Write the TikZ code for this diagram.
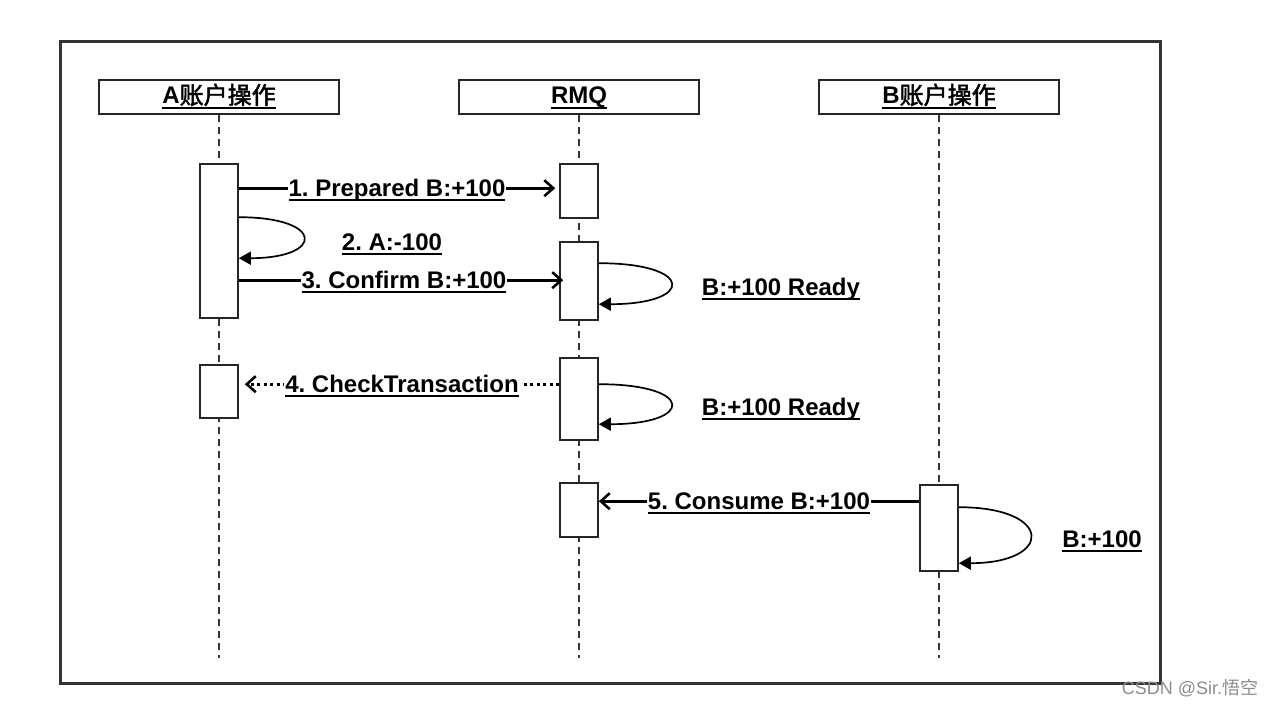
\documentclass[tikz,border=0pt]{standalone}
\usepackage{fontspec}
\setmainfont{Liberation Sans}
\newfontfamily\cjk{Noto Sans CJK SC}[AutoFakeBold=2]
\usetikzlibrary{arrows.meta,calc}
\newcommand\ulbox[1]{\setbox0=\hbox{#1}\leavevmode\rlap{\rule[-4.5pt]{\wd0}{1.8pt}}\box0}
\frenchspacing
\begin{document}
\begin{tikzpicture}[x=1pt,y=-1pt,
  frm/.style={draw=black!80,line width=3pt,inner sep=0,minimum width=1100pt,minimum height=641pt},
  hdr/.style={draw=black!85,line width=1.6pt,minimum width=240pt,minimum height=34pt,inner sep=0},
  hdrtxt/.style={inner sep=0,anchor=base,font=\bfseries\fontsize{24}{28}\selectfont},
  act/.style={draw=black!85,fill=white,line width=1.6pt,minimum width=38pt,inner sep=0},
  life/.style={dash pattern=on 7pt off 5pt,line width=1.2pt,black!80},
  msg/.style={line width=2.8pt,-{Straight Barb[length=9pt,width=16pt,line width=2.6pt]}},
  selfloop/.style={line width=1.7pt,-{Triangle[length=12pt,width=13pt]}},
  lbl/.style={fill=white,inner sep=1pt,anchor=base,yshift=-8pt,font=\bfseries\fontsize{24}{28}\selectfont},
  note/.style={inner sep=0,anchor=base,font=\bfseries\fontsize{24}{28}\selectfont}]
\useasboundingbox (0,0) rectangle (1274,706);
\fill[white] (0,0) rectangle (1274,706);
\node[frm] (frame) at (610,362.5) {};
% headers
\node[hdr] (ha) at (219,97) {};
\node[hdr] (hr) at (579,97) {};
\node[hdr] (hb) at (939,97) {};
\node[hdrtxt] (ta) at ([yshift=-7pt]ha.center) {\ulbox{A{\cjk 账户操作}}};
\node[hdrtxt] (tr) at ([yshift=-7pt]hr.center) {\ulbox{RMQ}};
\node[hdrtxt] (tb) at ([yshift=-7pt]hb.center) {\ulbox{B{\cjk 账户操作}}};
% lifeline ends
\coordinate (ea) at (219,658);
\coordinate (er) at (579,658);
\coordinate (eb) at (939,658);
\draw[life] (ha.south) -- (ea);
\draw[life] (hr.south) -- (er);
\draw[life] (hb.south) -- (eb);
% activations
\node[act,minimum height=154pt] (a1) at (219,241) {};
\node[act,minimum height=53pt] (a2) at (219,391.5) {};
\node[act,minimum height=54pt] (r1) at (579,191) {};
\node[act,minimum height=78pt] (r2) at (579,281) {};
\node[act,minimum height=82pt] (r3) at (579,399) {};
\node[act,minimum height=54pt] (r4) at (579,510) {};
\node[act,minimum height=86pt] (b1) at (939,528) {};
% messages
\draw[msg] ([yshift=-25pt]a1.north east) -- ([yshift=-25pt,xshift=-4pt]r1.north west)
  node[lbl,midway] (m1) {\ulbox{1. Prepared B:+100}};
\draw[selfloop] ([yshift=-54pt]a1.north east) .. controls +(86,0) and +(86,0) .. ([yshift=-95pt]a1.north east);
\node[note] (m2) at (392,250) {\ulbox{2. A:-100}};
\draw[msg] ([yshift=-117pt]a1.north east) -- ([yshift=-39pt,xshift=4pt]r2.north west)
  node[lbl,midway,xshift=3pt] (m3) {\ulbox{3. Confirm B:+100}};
\draw[selfloop] ([yshift=-22pt]r2.north east) .. controls +(96,0) and +(96,0) .. ([yshift=-63pt]r2.north east);
\node[note] (n1) at (781,295) {\ulbox{B:+100 Ready}};
\draw[msg,dash pattern=on 3pt off 3.5pt] ([yshift=-27pt]r3.north west) -- ([yshift=-20pt,xshift=6pt]a2.north east)
  node[lbl,midway] (m4) {\ulbox{4. CheckTransaction}};
\draw[selfloop] ([yshift=-27pt]r3.north east) .. controls +(96,0) and +(96,0) .. ([yshift=-67pt]r3.north east);
\node[note] (n2) at (781,415) {\ulbox{B:+100 Ready}};
\draw[msg] ([yshift=-17pt]b1.north west) -- ([yshift=-19pt]r4.north east)
  node[lbl,midway] (m5) {\ulbox{5. Consume B:+100}};
\draw[selfloop] ([yshift=-23pt]b1.north east) .. controls +(95,0) and +(95,0) .. ([yshift=-79pt]b1.north east);
\node[note] (n3) at (1102,547) {\ulbox{B:+100}};
% watermark
\node[inner sep=0,text=black!45,font=\fontsize{18}{20}\selectfont] (wm) at (1190,688) {CSDN @Sir.{\cjk 悟空}};
\end{tikzpicture}
\end{document}
